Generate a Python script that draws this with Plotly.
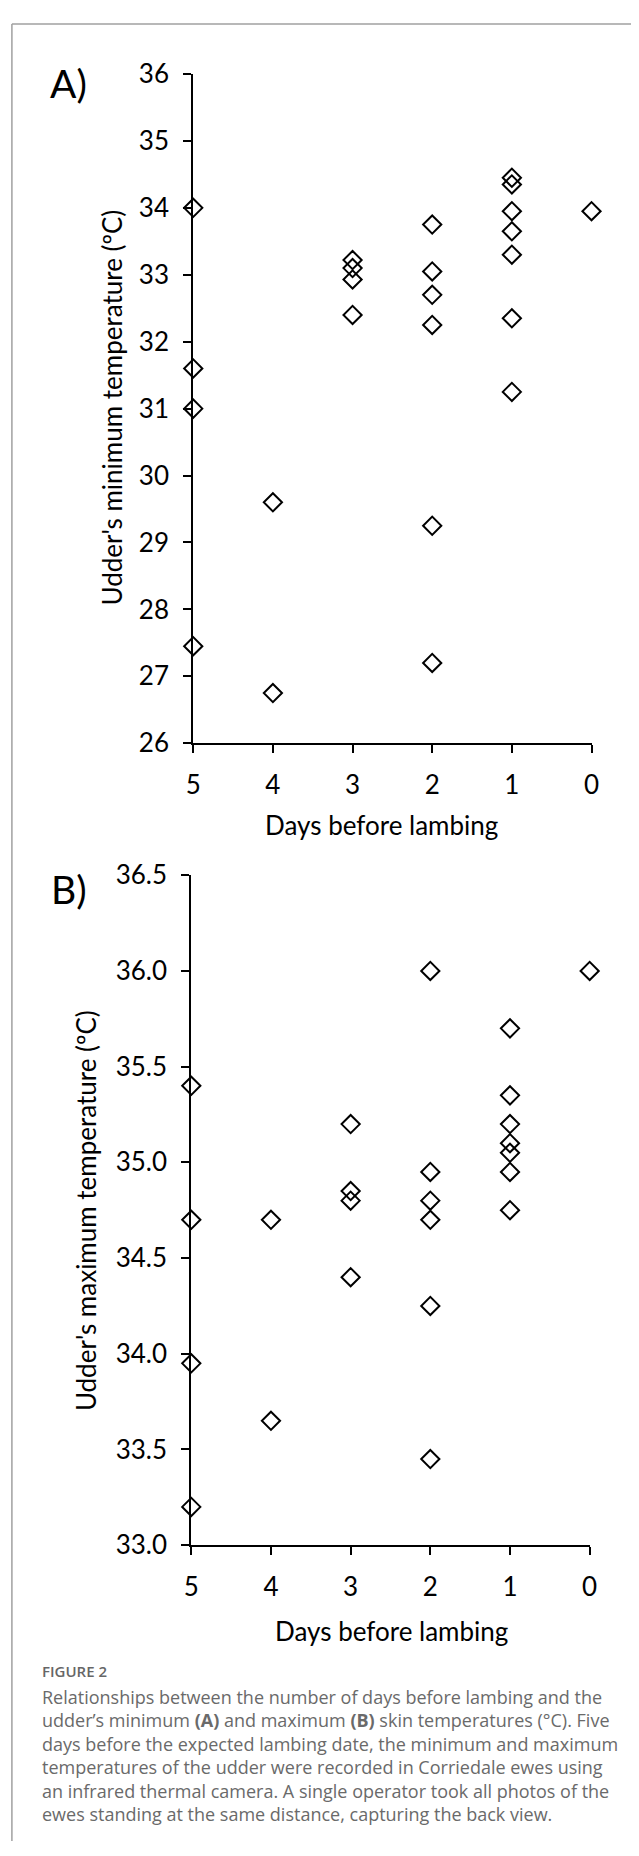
import plotly.graph_objects as go

# ---------------- data ----------------
days_a = [5, 5, 5, 5,
          4, 4,
          3, 3, 3, 3,
          2, 2, 2, 2, 2, 2,
          1, 1, 1, 1, 1, 1, 1,
          0]
temp_min = [34.0, 31.6, 31.0, 27.45,
            29.6, 26.75,
            33.22, 33.1, 32.93, 32.4,
            33.75, 33.05, 32.7, 32.25, 29.25, 27.2,
            34.45, 34.35, 33.95, 33.65, 33.3, 32.35, 31.25,
            33.95]

days_b = [5, 5, 5, 5,
          4, 4,
          3, 3, 3, 3,
          2, 2, 2, 2, 2, 2,
          1, 1, 1, 1, 1, 1, 1,
          0]
temp_max = [35.4, 34.7, 33.95, 33.2,
            34.7, 33.65,
            35.2, 34.85, 34.8, 34.4,
            36.0, 34.95, 34.8, 34.7, 34.25, 33.45,
            35.7, 35.35, 35.2, 35.1, 35.05, 34.95, 34.75,
            36.0]

x_ticks = [5, 4, 3, 2, 1, 0]
ya_ticks = [26, 27, 28, 29, 30, 31, 32, 33, 34, 35, 36]
yb_ticks = [33.0, 33.5, 34.0, 34.5, 35.0, 35.5, 36.0, 36.5]

caption_lines = [
    "Relationships between the number of days before lambing and the",
    "udder\u2019s minimum <b>(A)</b> and maximum <b>(B)</b> skin temperatures (\u00b0C). Five",
    "days before the expected lambing date, the minimum and maximum",
    "temperatures of the udder were recorded in Corriedale ewes using",
    "an infrared thermal camera. A single operator took all photos of the",
    "ewes standing at the same distance, capturing the back view.",
]

# ---------------- layout helpers ----------------
W, H = 639, 1856
FONT = "Lato"


def px(x):
    return x / W


def py(y):
    return 1 - y / H


marker = dict(symbol="diamond-open", size=14, color="black",
              line=dict(width=2, color="black"))

fig = go.Figure()
fig.add_trace(go.Scatter(x=days_a, y=temp_min, mode="markers", marker=marker,
                         xaxis="x", yaxis="y", cliponaxis=False, showlegend=False))
fig.add_trace(go.Scatter(x=days_b, y=temp_max, mode="markers", marker=marker,
                         xaxis="x2", yaxis="y2", cliponaxis=False, showlegend=False))

axis_common = dict(showgrid=False, zeroline=False, showline=True, linecolor="black",
                   linewidth=2, ticks="outside", ticklen=8, tickwidth=2,
                   tickcolor="black", tickfont=dict(family=FONT, size=26, color="black"))

fig.update_layout(
    width=W, height=H,
    margin=dict(l=0, r=0, t=0, b=0),
    paper_bgcolor="white", plot_bgcolor="white",
    font=dict(family=FONT, color="black"),
    xaxis=dict(domain=[px(190), px(598.5)], range=[5, 0], tickvals=x_ticks,
               anchor="y", ticklabelstandoff=10, **axis_common),
    yaxis=dict(domain=[py(739), py(58)], range=[26, 36], tickvals=ya_ticks,
               anchor="x", ticklabelstandoff=9, **axis_common),
    xaxis2=dict(domain=[px(188), px(596.6)], range=[5, 0], tickvals=x_ticks,
                anchor="y2", ticklabelstandoff=10, **axis_common),
    yaxis2=dict(domain=[py(1555), py(873.3)], range=[33.0, 36.5], tickvals=yb_ticks,
                tickformat=".1f", anchor="x2", ticklabelstandoff=9, **axis_common),
)

ann = []
# panel letters
ann.append(dict(text="A)", x=px(62), y=py(67), font=dict(family=FONT, size=39, color="black")))
ann.append(dict(text="B)", x=px(63), y=py(887), font=dict(family=FONT, size=39, color="black")))
# axis titles
ann.append(dict(text="Days before lambing", x=px(383), y=py(822),
                font=dict(family=FONT, size=26, color="black")))
ann.append(dict(text="Days before lambing", x=px(393), y=py(1642),
                font=dict(family=FONT, size=26, color="black")))
ann.append(dict(text="Udder's minimum temperature (\u00baC)", x=px(107), y=py(397), textangle=-90,
                font=dict(family=FONT, size=26, color="black")))
ann.append(dict(text="Udder's maximum temperature (\u00baC)", x=px(80), y=py(1214), textangle=-90,
                font=dict(family=FONT, size=26, color="black")))
# caption
ann.append(dict(text="FIGURE 2", x=px(33), y=py(1683), xanchor="left",
                font=dict(family="Open Sans", size=15, color="#666666", weight=600)))
ann.append(dict(text="<br>".join(caption_lines), x=px(33), y=py(1695), xanchor="left",
                yanchor="top", align="left",
                font=dict(family="Open Sans", size=18, color="#6a6a6a")))

for a in ann:
    a.setdefault("xanchor", "center")
    a.setdefault("yanchor", "middle")
    a.update(xref="paper", yref="paper", showarrow=False)
fig.update_layout(annotations=ann)

# page frame (top and left edges)
fig.update_layout(shapes=[
    dict(type="line", xref="paper", yref="paper", x0=px(4), x1=1, y0=py(7), y1=py(7),
         line=dict(color="#a0a0a0", width=1.5)),
    dict(type="line", xref="paper", yref="paper", x0=px(4), x1=px(4), y0=py(7), y1=0,
         line=dict(color="#a0a0a0", width=1.5)),
])

fig.write_html("out.html",
               config={"displayModeBar": False},
               post_script="document.body.style.margin='0';"
                           "document.body.style.overflow='hidden';")
